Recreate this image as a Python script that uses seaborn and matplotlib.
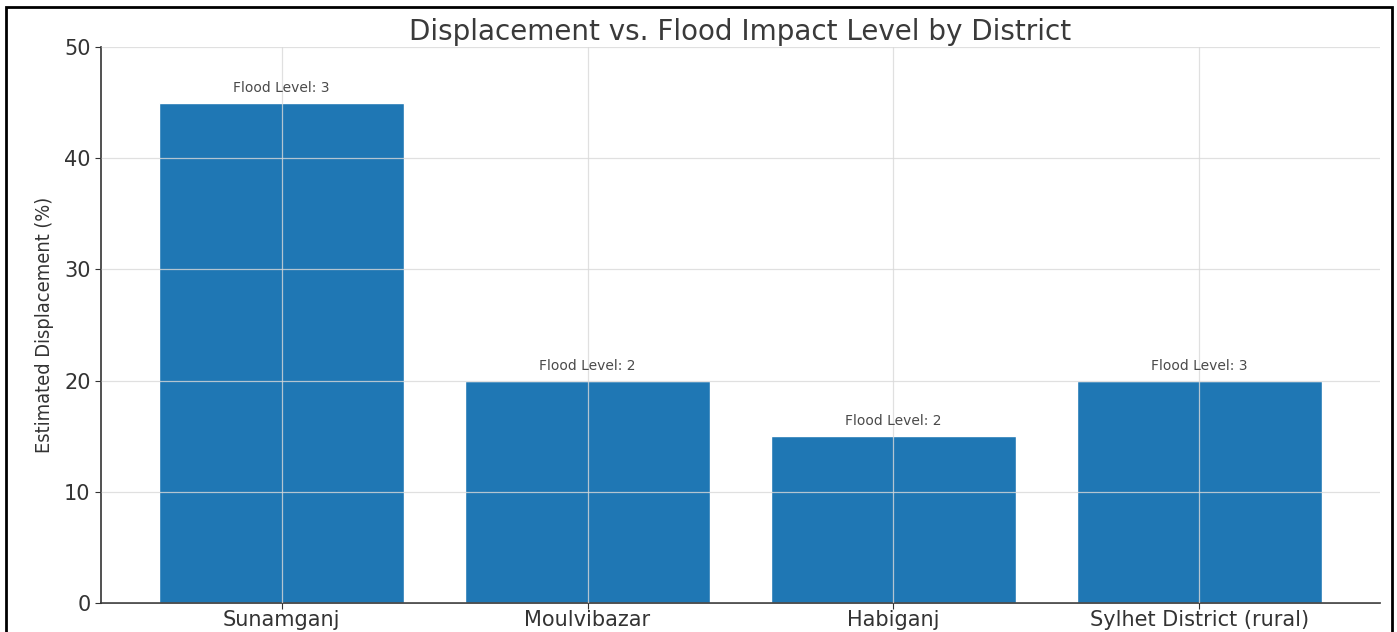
import matplotlib
matplotlib.use("Agg")
import matplotlib.pyplot as plt
import seaborn as sns
import pandas as pd
from matplotlib.patches import Rectangle

# District displacement estimates and flood impact levels
districts = ["Sunamganj", "Moulvibazar", "Habiganj", "Sylhet District (rural)"]
displacement = [45, 20, 15, 20]
flood_levels = [3, 2, 2, 3]

df = pd.DataFrame({"District": districts, "Displacement": displacement, "Flood": flood_levels})

sns.set_theme(style="white")
plt.rcParams["font.family"] = ["DejaVu Sans"]

fig = plt.figure(figsize=(13.97, 6.32), dpi=100)
ax = fig.add_axes([101 / 1397, 1 - 603 / 632, (1380 - 101) / 1397, (603 - 47) / 632])

sns.barplot(data=df, x="District", y="Displacement", color="#1f77b4", saturation=1,
            width=0.8, ax=ax, zorder=1)

ax.set_xlim(-0.59, 3.59)
ax.set_ylim(0, 50)
ax.set_yticks([0, 10, 20, 30, 40, 50])

ax.grid(True, color="#d9d9d9", linewidth=0.9, linestyle="-", alpha=0.8, zorder=3)
ax.set_axisbelow(False)

for i, (v, lvl) in enumerate(zip(displacement, flood_levels)):
    ax.text(i, v + 0.7, f"Flood Level: {lvl}", ha="center", va="bottom",
            fontsize=10, color="#4a4a4a", zorder=4)

ax.set_title("Displacement vs. Flood Impact Level by District", fontsize=20,
             color="#3a3a3a", pad=5)
ax.set_xlabel("")
ax.set_ylabel("Estimated Displacement (%)", fontsize=14.3, color="#333333",
              fontstretch="condensed", labelpad=7)

for s in ["top", "right"]:
    ax.spines[s].set_visible(False)
for s in ["left", "bottom"]:
    ax.spines[s].set_color("#333333")
    ax.spines[s].set_linewidth(1.2)

ax.tick_params(axis="both", labelsize=15, colors="#333333", length=4, width=0.8,
               direction="out", left=True, bottom=True)
ax.tick_params(axis="x", pad=1)

# Outer frame around the whole figure
fig.add_artist(Rectangle((6 / 1397, -0.02), (1392 - 6) / 1397, 1.02 - 7 / 632,
                         transform=fig.transFigure, fill=False,
                         edgecolor="black", linewidth=2, clip_on=False))

fig.savefig("out.png", dpi=100, facecolor="white")
